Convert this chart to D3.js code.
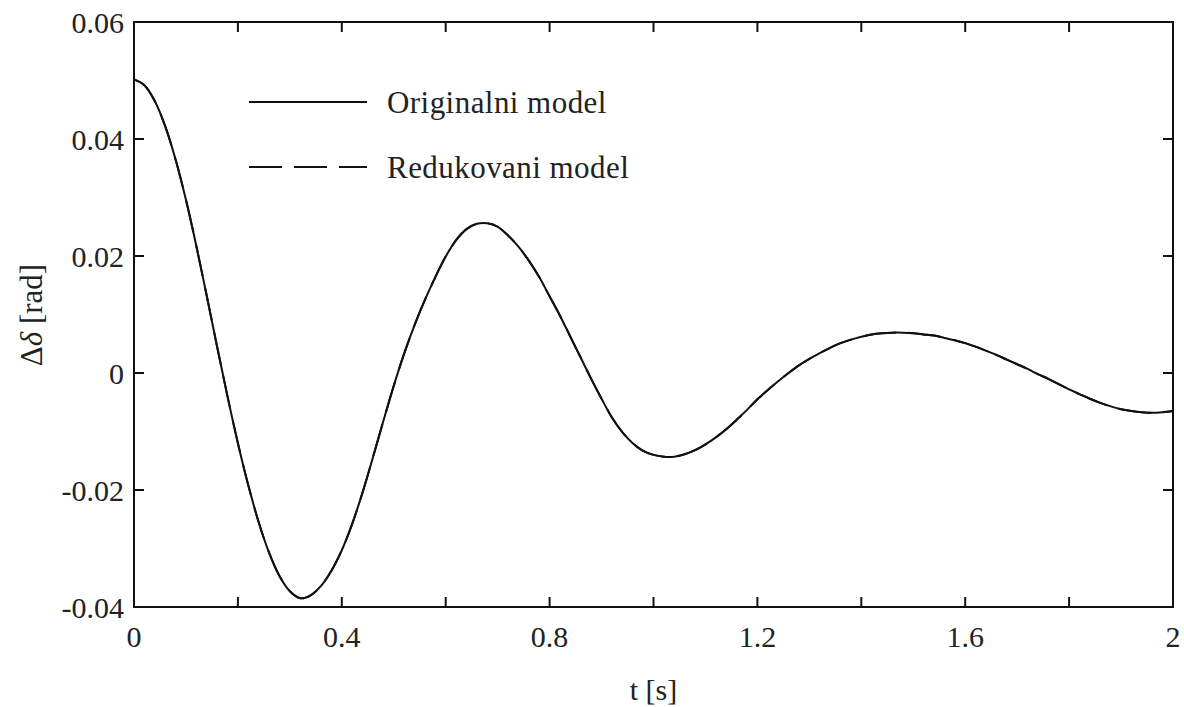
<!DOCTYPE html>
<html>
<head>
<meta charset="utf-8">
<script src="https://cdn.jsdelivr.net/npm/d3@7"></script>
<style>
  body { margin: 0; background: #fff; }
</style>
</head>
<body>
<svg id="chart" width="1184" height="707" font-family="'Liberation Serif', 'Times New Roman', Times, Tinos, 'DejaVu Serif', serif"></svg>
<script>
// time samples [s]
var timeValues = [0, 0.02, 0.04, 0.06, 0.08, 0.10, 0.12, 0.14, 0.16, 0.18,
  0.20, 0.22, 0.24, 0.26, 0.28, 0.30, 0.32, 0.34, 0.36, 0.38,
  0.40, 0.42, 0.44, 0.46, 0.48, 0.50, 0.52, 0.54, 0.56, 0.58,
  0.60, 0.62, 0.64, 0.66, 0.68, 0.70, 0.72, 0.74, 0.76, 0.78,
  0.80, 0.82, 0.84, 0.86, 0.88, 0.90, 0.92, 0.94, 0.96, 0.98,
  1.00, 1.02, 1.04, 1.06, 1.08, 1.10, 1.12, 1.14, 1.16, 1.18,
  1.20, 1.22, 1.24, 1.26, 1.28, 1.30, 1.32, 1.34, 1.36, 1.38,
  1.40, 1.42, 1.44, 1.46, 1.48, 1.50, 1.52, 1.54, 1.56, 1.58,
  1.60, 1.62, 1.64, 1.66, 1.68, 1.70, 1.72, 1.74, 1.76, 1.78,
  1.80, 1.82, 1.84, 1.86, 1.88, 1.90, 1.92, 1.94, 1.96, 1.98, 2.00];
// original model response [rad]
var originalValues = [0.0502, 0.0492, 0.0465, 0.0422, 0.0365, 0.0296, 0.0217, 0.0132, 0.0045, -0.0040,
  -0.0120, -0.0192, -0.0255, -0.0307, -0.0347, -0.0373, -0.0385, -0.0380, -0.0364, -0.0338,
  -0.0303, -0.0258, -0.0204, -0.0144, -0.0082, -0.0022, 0.0033, 0.0082, 0.0125, 0.0164,
  0.0199, 0.0227, 0.0246, 0.0255, 0.0256, 0.0250, 0.0235, 0.0216, 0.0192, 0.0164,
  0.0131, 0.0098, 0.0062, 0.0026, -0.0010, -0.0044, -0.0076, -0.0101, -0.0120, -0.0133,
  -0.0140, -0.0143, -0.0143, -0.0139, -0.0132, -0.0122, -0.0110, -0.0096, -0.0080, -0.0063,
  -0.0045, -0.0029, -0.0014, 0.0000, 0.0013, 0.0024, 0.0034, 0.0043, 0.0051, 0.0057,
  0.0062, 0.0066, 0.0068, 0.0069, 0.0069, 0.0068, 0.0066, 0.0064, 0.0060, 0.0056,
  0.0051, 0.0045, 0.0038, 0.0031, 0.0023, 0.0015, 0.0007, -0.0002, -0.0010, -0.0019,
  -0.0028, -0.0036, -0.0044, -0.0051, -0.0057, -0.0062, -0.0065, -0.0067, -0.0068, -0.0067, -0.0065];
// reduced model response [rad] - lies on top of the original
var reducedValues = originalValues.slice();

var xTicks = [0, 0.2, 0.4, 0.6, 0.8, 1.0, 1.2, 1.4, 1.6, 1.8, 2.0];
var xLabels = [0, 0.4, 0.8, 1.2, 1.6, 2];
var yTicks = [-0.04, -0.02, 0, 0.02, 0.04, 0.06];
var legendNames = ["Originalni model", "Redukovani model"];

var svg = d3.select("#chart");
var margin = { top: 22, right: 11, bottom: 100, left: 134 };
var width = 1184 - margin.left - margin.right;
var height = 707 - margin.top - margin.bottom;
var fontSize = 30;
var ink = "#111";

var x = d3.scaleLinear().domain([0, 2]).range([0, width]);
var y = d3.scaleLinear().domain([-0.04, 0.06]).range([height, 0]);

var g = svg.append("g")
  .attr("transform", `translate(${margin.left},${margin.top})`);

// frame
g.append("rect")
  .attr("width", width)
  .attr("height", height)
  .attr("fill", "none")
  .attr("stroke", ink)
  .attr("stroke-width", 2);

// ticks pointing inwards on all four sides
var tickLen = 10;
g.append("g").selectAll("line").data(xTicks).enter().append("line")
  .attr("x1", d => x(d)).attr("x2", d => x(d))
  .attr("y1", height).attr("y2", height - tickLen)
  .attr("stroke", ink).attr("stroke-width", 2);
g.append("g").selectAll("line").data(xTicks).enter().append("line")
  .attr("x1", d => x(d)).attr("x2", d => x(d))
  .attr("y1", 0).attr("y2", tickLen)
  .attr("stroke", ink).attr("stroke-width", 2);
g.append("g").selectAll("line").data(yTicks).enter().append("line")
  .attr("x1", 0).attr("x2", tickLen)
  .attr("y1", d => y(d)).attr("y2", d => y(d))
  .attr("stroke", ink).attr("stroke-width", 2);
g.append("g").selectAll("line").data(yTicks).enter().append("line")
  .attr("x1", width).attr("x2", width - tickLen)
  .attr("y1", d => y(d)).attr("y2", d => y(d))
  .attr("stroke", ink).attr("stroke-width", 2);

// tick labels
g.append("g").selectAll("text").data(xLabels).enter().append("text")
  .attr("x", d => x(d))
  .attr("y", height + 40)
  .attr("text-anchor", "middle")
  .attr("fill", "#222")
  .style("font-size", fontSize + "px")
  .text(d => d3.format("")(d));
g.append("g").selectAll("text").data(yTicks).enter().append("text")
  .attr("x", -10)
  .attr("y", d => y(d))
  .attr("dy", "0.35em")
  .attr("text-anchor", "end")
  .attr("fill", "#222")
  .style("font-size", fontSize + "px")
  .text(d => d === 0 ? "0" : d.toFixed(2));

// axis titles
g.append("text")
  .attr("x", width / 2)
  .attr("y", height + 93)
  .attr("text-anchor", "middle")
  .attr("fill", "#222")
  .style("font-size", fontSize + "px")
  .text("t [s]");
var yTitle = g.append("text")
  .attr("transform", `translate(${42 - margin.left},${315 - margin.top}) rotate(-90)`)
  .attr("text-anchor", "middle")
  .attr("fill", "#222")
  .style("font-size", "31px");
yTitle.append("tspan").text("\u0394");
yTitle.append("tspan").style("font-style", "italic").text("\u03b4");
yTitle.append("tspan").text(" [rad]");

// curves
var line = d3.line()
  .x((d, i) => x(timeValues[i]))
  .y(d => y(d))
  .curve(d3.curveCatmullRom);
g.append("path")
  .datum(originalValues)
  .attr("fill", "none")
  .attr("stroke", ink)
  .attr("stroke-width", 2)
  .attr("d", line);
g.append("path")
  .datum(reducedValues)
  .attr("fill", "none")
  .attr("stroke", ink)
  .attr("stroke-width", 2)
  .attr("stroke-dasharray", "33,12")
  .attr("d", line);

// legend
var legend = g.append("g").attr("transform", "translate(115,80)");
legendNames.forEach(function(name, i) {
  var row = legend.append("g").attr("transform", `translate(0,${i * 65})`);
  row.append("line")
    .attr("x1", 0).attr("x2", 118)
    .attr("y1", 0).attr("y2", 0)
    .attr("stroke", ink)
    .attr("stroke-width", 2)
    .attr("stroke-dasharray", i === 0 ? null : "33,12");
  row.append("text")
    .attr("x", 138)
    .attr("y", 11)
    .attr("fill", "#222")
    .style("font-size", "31px")
    .style("letter-spacing", "0.45px")
    .text(name);
});
</script>
</body>
</html>
